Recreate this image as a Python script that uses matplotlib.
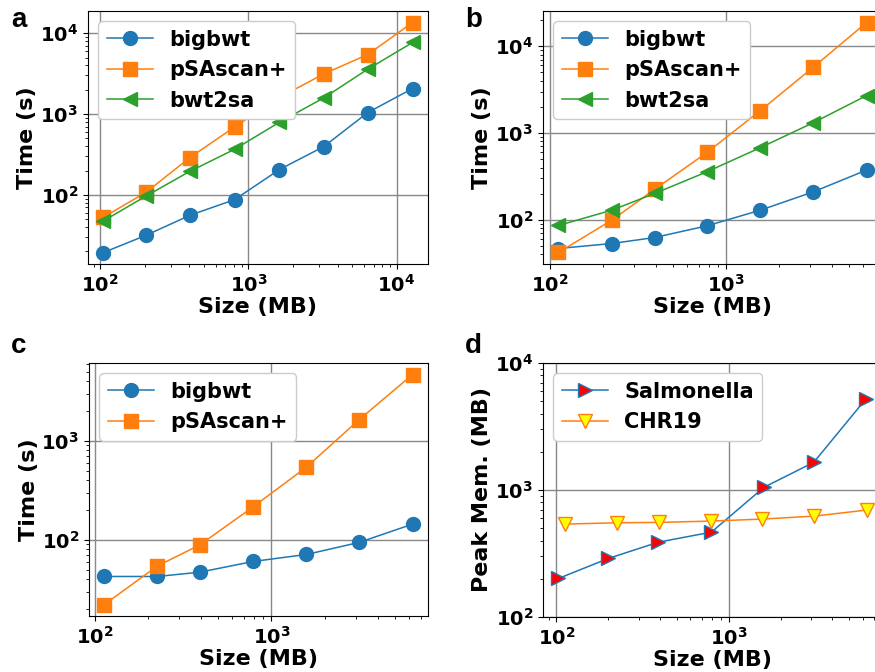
import matplotlib
matplotlib.use("Agg")
import matplotlib.pyplot as plt

# panel a: Salmonella, time (s) vs size (MB)
a_size = [105, 204, 403, 808, 1620, 3230, 6400, 12830]
a_bigbwt = [19.4, 31.7, 56, 87.5, 206, 396, 1044, 2066]
a_psascan = [53, 108, 290, 694, 1600, 3140, 5445, 13550]
a_bwt2sa = [47.7, 97, 196, 367, 792, 1585, 3588, 7670]

# panel b: CHR19
b_size = [112, 225, 394, 783, 1570, 3140, 6300]
b_bigbwt = [46.7, 53.3, 62.5, 85.3, 129, 210, 374]
b_psascan = [42, 99, 224, 598, 1811, 5728, 18750]
b_bwt2sa = [86, 129, 201, 358, 678, 1315, 2697]

# panel c
c_size = [113, 225, 393, 787, 1578, 3134, 6310]
c_bigbwt = [42.6, 42.6, 47.1, 60.4, 71.1, 94, 144]
c_psascan = [22.2, 54.2, 89, 215, 542, 1630, 4677]

# panel d: peak memory
d_salmonella_size = [102.7, 200, 390, 794, 1602, 3120, 6270]
d_salmonella_mem = [201, 289, 388, 466, 1050, 1652, 5225]
d_chr19_size = [112, 225, 395, 787, 1560, 3147, 6320]
d_chr19_mem = [539, 552, 556, 569, 590, 623, 695]

BLUE = "#1f77b4"
ORANGE = "#ff7f0e"
GREEN = "#2ca02c"

W, H = 875, 672
fig = plt.figure(figsize=(W / 100, H / 100), dpi=100)


def px_axes(x0, y0, x1, y1):
    # pixel box (left, top, right, bottom) -> figure fraction
    return fig.add_axes([x0 / W, 1 - y1 / H, (x1 - x0) / W, (y1 - y0) / H])


def style(ax, ylabel):
    ax.set_xscale("log")
    ax.set_yscale("log")
    ax.grid(True, which="major", color="#888888", linewidth=1.0)
    ax.set_axisbelow(True)
    ax.set_xlabel("Size (MB)", fontsize=16, fontweight="bold", labelpad=1)
    ax.set_ylabel(ylabel, fontsize=16, fontweight="bold", labelpad=2)
    ax.tick_params(axis="both", which="major", labelsize=14)
    for lab in ax.get_xticklabels() + ax.get_yticklabels():
        lab.set_fontweight("bold")
    ax.legend(loc="upper left", prop={"size": 15, "weight": "bold"},
              borderaxespad=0.5, handlelength=2.2, framealpha=1)


ms = 10
lw = 1.1

ax_a = px_axes(88, 11, 428, 264)
ax_a.plot(a_size, a_bigbwt, "-o", color=BLUE, ms=ms, lw=lw, label="bigbwt")
ax_a.plot(a_size, a_psascan, "-s", color=ORANGE, ms=ms, lw=lw, label="pSAscan+")
ax_a.plot(a_size, a_bwt2sa, "-<", color=GREEN, ms=ms, lw=lw, label="bwt2sa")
style(ax_a, "Time (s)")

ax_b = px_axes(543, 11, 882, 264)
ax_b.plot(b_size, b_bigbwt, "-o", color=BLUE, ms=ms, lw=lw, label="bigbwt")
ax_b.plot(b_size, b_psascan, "-s", color=ORANGE, ms=ms, lw=lw, label="pSAscan+")
ax_b.plot(b_size, b_bwt2sa, "-<", color=GREEN, ms=ms, lw=lw, label="bwt2sa")
style(ax_b, "Time (s)")

ax_c = px_axes(89, 363, 428, 616)
ax_c.plot(c_size, c_bigbwt, "-o", color=BLUE, ms=ms, lw=lw, label="bigbwt")
ax_c.plot(c_size, c_psascan, "-s", color=ORANGE, ms=ms, lw=lw, label="pSAscan+")
style(ax_c, "Time (s)")

ax_d = px_axes(543, 363, 882, 617)
ax_d.plot(d_salmonella_size, d_salmonella_mem, "->", color=BLUE, mfc="red",
          mec=BLUE, ms=ms, lw=lw, label="Salmonella")
ax_d.plot(d_chr19_size, d_chr19_mem, "-v", color=ORANGE, mfc="yellow",
          mec=ORANGE, ms=ms, lw=lw, label="CHR19")
ax_d.set_ylim(100, 10000)
style(ax_d, "Peak Mem. (MB)")

for txt, x, y in [("a", 11, 27), ("b", 465, 27), ("c", 11, 353), ("d", 465, 353)]:
    fig.text(x / W, 1 - y / H, txt, fontsize=20, fontweight="bold",
             family="Liberation Sans", va="baseline", ha="left")

fig.savefig("out.png", dpi=100)
